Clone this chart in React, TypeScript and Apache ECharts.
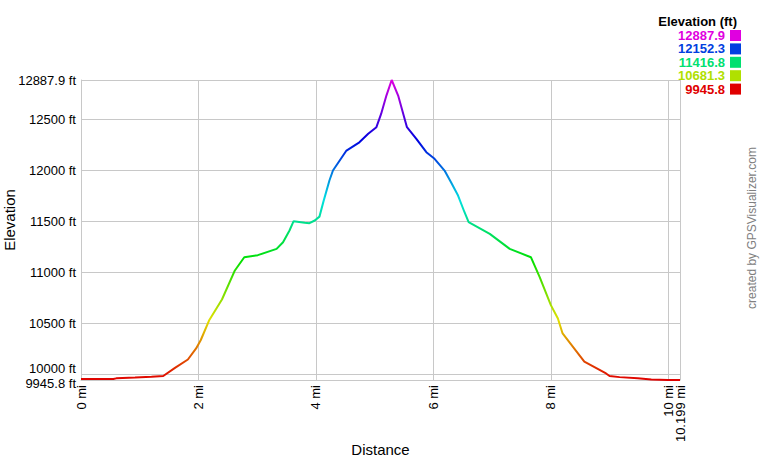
import React, { useEffect, useRef } from 'react';
import * as echarts from 'echarts';

// distance along the track (mi) and elevation (ft)
const distances = [
  0, 0.55, 0.6, 0.92, 1.2, 1.4, 1.6, 1.82, 1.96, 2.04, 2.18, 2.4, 2.62, 2.78, 3.01, 3.33, 3.44, 3.55, 3.62,
  3.81, 3.89, 3.98, 4.06, 4.13, 4.23, 4.29, 4.52, 4.74, 4.89, 5.03, 5.11, 5.2, 5.29, 5.4, 5.55, 5.71, 5.88,
  6.02, 6.19, 6.3, 6.42, 6.53, 6.6, 6.96, 7.3, 7.66, 7.81, 8.0, 8.12, 8.2, 8.57, 8.94, 9.0, 9.17, 9.48, 9.71,
  9.99, 10.199,
];
const elevations = [
  9955, 9955, 9962, 9970, 9978, 9985, 10064, 10147, 10255, 10338, 10529, 10735, 11020, 11150, 11170, 11232,
  11297, 11412, 11503, 11487, 11484, 11510, 11548, 11700, 11902, 12000, 12196, 12277, 12360, 12425, 12555,
  12735, 12887.9, 12735, 12425, 12311, 12180, 12115, 12000, 11885, 11755, 11591, 11493, 11379, 11232, 11150,
  10954, 10680, 10549, 10402, 10125, 10010, 9985, 9974, 9964, 9951, 9945.8, 9945.8,
];

const minElevation = 9945.8;
const maxElevation = 12887.9;
const maxDistance = 10.199;

const xTicks = [0, 2, 4, 6, 8, 10, 10.199];
const xLabels = [0, 2, 4, 6, 8, 10];
const xEndLabel = [10.199];
const yTicks = [9945.8, 10000, 10500, 11000, 11500, 12000, 12500, 12887.9];

const legendValues = ['12887.9', '12152.3', '11416.8', '10681.3', '9945.8'];
const legendColors = ['#e000e0', '#0040e0', '#00e070', '#b0e000', '#e00000'];

// hue ramp red -> magenta
const rampColors = [
  '#e00000', '#e07000', '#e0e000', '#70e000', '#00e000', '#00e070',
  '#00e0e0', '#0070e0', '#0000e0', '#7000e0', '#e000e0',
];

const FONT = '"Liberation Sans", Arial, sans-serif';
const GRID_COLOR = '#c8c8c8';

const App: React.FC = () => {
  const chartRef = useRef<HTMLDivElement>(null);

  useEffect(() => {
    if (!chartRef.current) return;
    const chart = echarts.init(chartRef.current, undefined, { renderer: 'svg' });

    const points = distances.map((d, i) => [d, elevations[i]]);

    const legendItems: any[] = [
      {
        type: 'text',
        x: 737,
        y: 21,
        style: { text: 'Elevation (ft)', fill: '#000', font: `bold 13px ${FONT}`, align: 'right', verticalAlign: 'middle' },
      },
    ];
    legendValues.forEach((v, i) => {
      const y = 35.5 + i * 13.4;
      legendItems.push({
        type: 'text',
        x: 725,
        y,
        style: {
          text: v,
          fill: legendColors[i],
          font: `bold 13px ${FONT}`,
          lineHeight: 12,
          align: 'right',
          verticalAlign: 'middle',
        },
      });
      legendItems.push({
        type: 'rect',
        shape: { x: 730, y: y - 5.5, width: 11, height: 11 },
        style: { fill: legendColors[i] },
      });
    });

    const xLabelStyle = {
      rotate: 90,
      margin: 5,
      fontSize: 13,
      color: '#000',
      fontFamily: FONT,
      showMinLabel: true,
      showMaxLabel: true,
      formatter: (v: number) => `${v} mi`,
    };

    const option: any = {
      animation: false,
      backgroundColor: '#fff',
      textStyle: { fontFamily: FONT },
      grid: { left: 81, right: 80, top: 80, bottom: 80, containLabel: false, outerBoundsMode: 'none' },
      visualMap: {
        type: 'continuous',
        show: false,
        dimension: 1,
        seriesIndex: 0,
        min: minElevation,
        max: maxElevation,
        inRange: { color: rampColors },
      },
      xAxis: [
        {
          type: 'value',
          min: 0,
          max: maxDistance,
          name: 'Distance',
          nameLocation: 'middle',
          nameGap: 62,
          nameMoveOverlap: false,
          nameTextStyle: { fontSize: 15, color: '#000', fontFamily: FONT },
          axisLine: { show: true, lineStyle: { color: GRID_COLOR, width: 1 } },
          axisTick: { show: false, customValues: xTicks },
          splitLine: { show: true, lineStyle: { color: GRID_COLOR, width: 1 } },
          axisLabel: { ...xLabelStyle, customValues: xLabels },
        },
        {
          type: 'value',
          position: 'bottom',
          min: 0,
          max: maxDistance,
          axisLine: { show: false },
          axisTick: { show: false, customValues: xEndLabel },
          splitLine: { show: false },
          axisLabel: { ...xLabelStyle, customValues: xEndLabel },
        },
      ],
      yAxis: {
        type: 'value',
        min: minElevation,
        max: maxElevation,
        name: 'Elevation',
        nameLocation: 'middle',
        nameGap: 64,
        nameMoveOverlap: false,
        nameTextStyle: { fontSize: 15, color: '#000', fontFamily: FONT, padding: [0, 0, 0, 20] },
        axisLine: { show: true, lineStyle: { color: GRID_COLOR, width: 1 } },
        axisTick: { show: false, customValues: yTicks },
        splitLine: { show: true, lineStyle: { color: GRID_COLOR, width: 1 } },
        axisLabel: {
          customValues: yTicks,
          margin: 5,
          fontSize: 13,
          color: '#000',
          fontFamily: FONT,
          showMinLabel: true,
          showMaxLabel: true,
          formatter: (v: number) => {
            if (v === minElevation) return `{lo|${v} ft}`;
            if (v === 10000) return `{hi|${v} ft}`;
            return `${v} ft`;
          },
          rich: {
            lo: { fontSize: 13, color: '#000', fontFamily: FONT, padding: [7, 0, 0, 0] },
            hi: { fontSize: 13, color: '#000', fontFamily: FONT, padding: [0, 0, 12, 0] },
          },
        },
      },
      graphic: [
        ...legendItems,
        {
          type: 'text',
          x: 752,
          y: 228,
          rotation: Math.PI / 2,
          style: {
            text: 'created by GPSVisualizer.com',
            fill: '#808080',
            font: `12px ${FONT}`,
            align: 'center',
            verticalAlign: 'middle',
          },
        },
      ],
      series: [
        {
          type: 'line',
          xAxisIndex: 0,
          data: points,
          showSymbol: false,
          symbol: 'none',
          lineStyle: { width: 2 },
        },
      ],
    };

    chart.setOption(option);

    const handleResize = () => chart.resize();
    window.addEventListener('resize', handleResize);
    return () => {
      window.removeEventListener('resize', handleResize);
      chart.dispose();
    };
  }, []);

  return (
    <div
      ref={chartRef}
      style={{ position: 'absolute', left: 0, top: 0, width: '760px', height: '460px' }}
    />
  );
};

export default App;
